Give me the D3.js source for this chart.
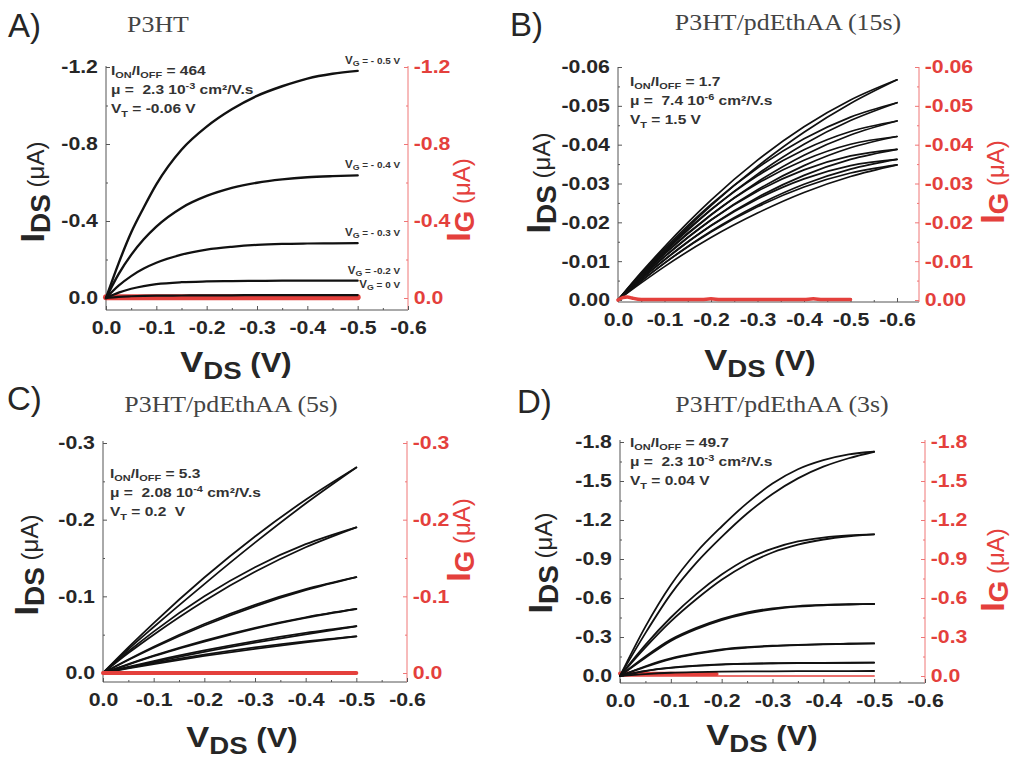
<!DOCTYPE html>
<html>
<head>
<meta charset="UTF-8">
<title>P3HT transistor output curves</title>
<script src="https://d3js.org/d3.v7.min.js"></script>
<style>
  body { margin: 0; background: #fff; }
  svg { display: block; }
  text { white-space: pre; }
</style>
</head>
<body>
<svg width="1015" height="769"></svg>
<script>
// values, V and uA (negative = p-type sweep)

// shared x ticks
var xTicks = [0, -0.1, -0.2, -0.3, -0.4, -0.5, -0.6];
var xMinor = [-0.05, -0.15, -0.25, -0.35, -0.45, -0.55];

// A) P3HT
var vdsA = [0, -0.025, -0.05, -0.075, -0.1, -0.15, -0.2, -0.25, -0.3, -0.35, -0.4, -0.45, -0.5];
var idsA_vg05 = [0, -0.18, -0.34, -0.47, -0.59, -0.77, -0.89, -0.98, -1.05, -1.10, -1.14, -1.165, -1.18];
var idsA_vg04 = [0, -0.124, -0.224, -0.305, -0.371, -0.468, -0.53, -0.572, -0.599, -0.616, -0.627, -0.633, -0.637];
var idsA_vg03 = [0, -0.064, -0.114, -0.153, -0.183, -0.225, -0.251, -0.266, -0.276, -0.281, -0.283, -0.284, -0.285];
var idsA_vg02 = [0, -0.028, -0.048, -0.062, -0.072, -0.082, -0.086, -0.088, -0.089, -0.09, -0.09, -0.09, -0.09];
var idsA_vg0 = [0, -0.006, -0.009, -0.011, -0.012, -0.013, -0.014, -0.014, -0.015, -0.015, -0.015, -0.015, -0.015];
var igA = [-0.004, -0.004, -0.004, -0.004, -0.004, -0.004, -0.004, -0.004, -0.004, -0.004, -0.004, -0.004, -0.004];
var vgLabelsA = ["- 0.5 V", "- 0.4 V", "- 0.3 V", "-0.2 V", "0 V"];
var yTicksA = [0, -0.4, -0.8, -1.2];
var yMinorA = [-0.2, -0.6, -1.0];

// B) P3HT/pdEthAA (15s) - forward and return sweeps
var vdsB = [0, -0.05, -0.1, -0.2, -0.3, -0.4, -0.5, -0.6];
var idsB1 = [0, -0.0071, -0.0137, -0.0257, -0.0360, -0.0446, -0.0515, -0.0567];
var idsB1r = [0, -0.0066, -0.0128, -0.0243, -0.0344, -0.0432, -0.0506, -0.0567];
var idsB2 = [0, -0.0069, -0.0132, -0.0246, -0.0340, -0.0415, -0.0471, -0.0508];
var idsB2r = [0, -0.0064, -0.0123, -0.0232, -0.0324, -0.0401, -0.0462, -0.0508];
var idsB3 = [0, -0.0066, -0.0127, -0.0233, -0.0320, -0.0387, -0.0434, -0.0461];
var idsB3r = [0, -0.0061, -0.0118, -0.0219, -0.0304, -0.0373, -0.0425, -0.0461];
var idsB4 = [0, -0.0062, -0.0120, -0.0220, -0.0300, -0.0360, -0.0401, -0.0421];
var idsB4r = [0, -0.0057, -0.0111, -0.0206, -0.0284, -0.0346, -0.0392, -0.0421];
var idsB5 = [0, -0.0059, -0.0112, -0.0206, -0.0280, -0.0335, -0.0371, -0.0388];
var idsB5r = [0, -0.0054, -0.0103, -0.0192, -0.0264, -0.0321, -0.0362, -0.0388];
var idsB6 = [0, -0.0054, -0.0104, -0.0191, -0.0260, -0.0312, -0.0346, -0.0362];
var idsB6r = [0, -0.0049, -0.0095, -0.0177, -0.0244, -0.0298, -0.0337, -0.0362];
var idsB7 = [0, -0.0049, -0.0095, -0.0175, -0.0240, -0.0291, -0.0327, -0.0348];
var idsB7r = [0, -0.0044, -0.0086, -0.0161, -0.0224, -0.0277, -0.0318, -0.0348];
var vgB = [0, -0.01, -0.02, -0.03, -0.05, -0.18, -0.2, -0.22, -0.4, -0.42, -0.44, -0.5];
var igB = [0, -0.0006, -0.0008, -0.0005, -0.0001, -0.0001, -0.0003, -0.0001, -0.0001, -0.0003, -0.0001, -0.0001];
var yTicksB = [0, -0.01, -0.02, -0.03, -0.04, -0.05, -0.06];
var yMinorB = [-0.005, -0.015, -0.025, -0.035, -0.045, -0.055];

// C) P3HT/pdEthAA (5s)
var vdsC = [0, -0.05, -0.1, -0.2, -0.3, -0.4, -0.5];
var idsC1 = [0, -0.0333, -0.0651, -0.1245, -0.1781, -0.2259, -0.268];
var idsC1r = [0, -0.031, -0.060, -0.116, -0.170, -0.221, -0.268];
var idsC2 = [0, -0.028, -0.054, -0.100, -0.138, -0.168, -0.190];
var idsC2r = [0, -0.026, -0.050, -0.094, -0.132, -0.164, -0.190];
var idsC3 = [0, -0.0177, -0.0343, -0.0639, -0.0889, -0.1093, -0.125];
var idsC3r = [0, -0.017, -0.033, -0.062, -0.087, -0.108, -0.125];
var idsC4 = [0, -0.0117, -0.0226, -0.0423, -0.0590, -0.0727, -0.0835];
var idsC4r = [0, -0.011, -0.022, -0.041, -0.058, -0.072, -0.0835];
var idsC5 = [0, -0.0080, -0.0156, -0.0294, -0.0416, -0.0522, -0.061];
var idsC5r = [0, -0.0072, -0.0142, -0.0275, -0.0395, -0.0505, -0.061];
var idsC6 = [0, -0.0066, -0.0128, -0.0239, -0.0334, -0.0413, -0.0478];
var idsC6r = [0, -0.0060, -0.0116, -0.0222, -0.0316, -0.0400, -0.0478];
var igC = [0, 0, 0, 0, 0, 0, 0];
var yTicksC = [0, -0.1, -0.2, -0.3];
var yMinorC = [-0.05, -0.15, -0.25];

// D) P3HT/pdEthAA (3s)
var vdsD = [0, -0.05, -0.1, -0.15, -0.2, -0.25, -0.3, -0.35, -0.4, -0.45, -0.5];
var idsD1 = [0, -0.38, -0.70, -0.95, -1.15, -1.33, -1.48, -1.59, -1.66, -1.705, -1.725];
var idsD1r = [0, -0.33, -0.63, -0.87, -1.07, -1.25, -1.40, -1.52, -1.61, -1.675, -1.725];
var idsD2 = [0, -0.24, -0.45, -0.63, -0.78, -0.90, -0.98, -1.035, -1.065, -1.082, -1.09];
var idsD2r = [0, -0.22, -0.42, -0.59, -0.74, -0.86, -0.95, -1.01, -1.05, -1.075, -1.09];
var idsD3 = [0, -0.15, -0.28, -0.37, -0.44, -0.49, -0.52, -0.538, -0.547, -0.552, -0.554];
var idsD3r = [0, -0.14, -0.27, -0.36, -0.43, -0.48, -0.513, -0.533, -0.544, -0.55, -0.554];
var idsD4 = [0, -0.075, -0.135, -0.175, -0.205, -0.222, -0.233, -0.240, -0.245, -0.248, -0.251];
var idsD4r = [0, -0.07, -0.13, -0.17, -0.2, -0.218, -0.23, -0.238, -0.244, -0.248, -0.251];
var idsD5 = [0, -0.04, -0.065, -0.08, -0.09, -0.095, -0.098, -0.1, -0.101, -0.102, -0.103];
var idsD5r = [0, -0.038, -0.062, -0.078, -0.088, -0.094, -0.097, -0.099, -0.1, -0.101, -0.103];
var idsD6 = [0, -0.015, -0.025, -0.03, -0.033, -0.035, -0.036, -0.037, -0.0375, -0.038, -0.0385];
var vgD1 = [0, -0.05, -0.1, -0.15, -0.19];
var igD1 = [-0.02, -0.018, -0.017, -0.016, -0.015];
var igD2 = [0, 0, 0, 0, 0, 0, 0, 0, 0, 0, 0];
var yTicksD = [0, -0.3, -0.6, -0.9, -1.2, -1.5, -1.8];
var yMinorD = [-0.15, -0.45, -0.75, -1.05, -1.35, -1.65];

// ---------------------------------------------------------------
var SANS = "'Liberation Sans', Arial, Helvetica, sans-serif";
var SERIF = "'Liberation Serif', 'Times New Roman', serif";
var INK = "#262626", RED = "#e4403c", REDAXIS = "#ef7676";
var SX = 1.15; // the original figure is a bit stretched sideways

var svg = d3.select("svg");

// text made of pieces: [string, size, baseline offset, weight]
function rich(g, x, y, parts, o) {
  o = o || {};
  var tr = "translate(" + x + "," + y + ")";
  if (o.rot) tr += " rotate(-90)";
  if (o.sx) tr += " scale(" + o.sx + ",1)";
  var t = g.append("text").attr("transform", tr)
    .attr("text-anchor", o.anchor || "start")
    .attr("fill", o.fill || INK)
    .attr("font-family", o.family || SANS);
  var cur = 0;
  parts.forEach(function (p) {
    var off = p[2] || 0;
    t.append("tspan").text(p[0])
      .attr("font-size", p[1])
      .attr("dy", off - cur)
      .attr("font-weight", p[3] || o.weight || "bold");
    cur = off;
  });
  return t;
}

function panel(p) {
  var g = svg.append("g");
  var x = d3.scaleLinear().domain([0, -0.6]).range([p.box.l, p.x06]);
  var y = d3.scaleLinear().domain([0, p.yTop]).range([p.y0, p.yTopPx]);
  var fmt = function (d) { return d.toFixed(p.dec); };

  // axis lines
  g.append("line").attr("x1", p.box.l).attr("x2", p.box.l).attr("y1", p.box.t).attr("y2", p.box.b).attr("stroke", "#555");
  g.append("line").attr("x1", p.box.l).attr("x2", p.box.r).attr("y1", p.box.b).attr("y2", p.box.b).attr("stroke", "#555");
  g.append("line").attr("x1", p.box.r).attr("x2", p.box.r).attr("y1", p.box.t).attr("y2", p.box.b).attr("stroke", REDAXIS);

  function styleTicks(sel, col, lineCol) {
    sel.select(".domain").remove();
    sel.selectAll("line").attr("stroke", lineCol);
    sel.selectAll("text").attr("font-family", SANS).attr("font-size", 18.5)
      .attr("font-weight", "bold").attr("fill", col)
      .attr("transform", "scale(" + SX + ",1)");
  }

  var xb = g.append("g").attr("transform", "translate(0," + p.box.b + ")");
  xb.call(d3.axisBottom(x).tickValues(xTicks).tickFormat(function (d) { return d.toFixed(1); })
    .tickSizeInner(-4).tickSizeOuter(0).tickPadding(11));
  styleTicks(xb, INK, "#555");
  var xm = g.append("g").attr("transform", "translate(0," + p.box.b + ")");
  xm.call(d3.axisBottom(x).tickValues(xMinor).tickFormat("").tickSizeInner(-2).tickSizeOuter(0));
  styleTicks(xm, INK, "#555");

  var yl = g.append("g").attr("transform", "translate(" + p.box.l + ",0)");
  yl.call(d3.axisLeft(y).tickValues(p.yTicks).tickFormat(fmt).tickSizeInner(-4).tickSizeOuter(0).tickPadding(7));
  styleTicks(yl, INK, "#555");
  var ylm = g.append("g").attr("transform", "translate(" + p.box.l + ",0)");
  ylm.call(d3.axisLeft(y).tickValues(p.yMinor).tickFormat("").tickSizeInner(-2).tickSizeOuter(0));
  styleTicks(ylm, INK, "#555");

  var yr = g.append("g").attr("transform", "translate(" + p.box.r + ",0)");
  yr.call(d3.axisRight(y).tickValues(p.yTicks).tickFormat(fmt).tickSizeInner(-4).tickSizeOuter(0).tickPadding(5));
  styleTicks(yr, RED, REDAXIS);
  var yrm = g.append("g").attr("transform", "translate(" + p.box.r + ",0)");
  yrm.call(d3.axisRight(y).tickValues(p.yMinor).tickFormat("").tickSizeInner(-2).tickSizeOuter(0));
  styleTicks(yrm, RED, REDAXIS);

  // curves
  p.series.forEach(function (s) {
    var pts = s.x.map(function (v, i) { return [v, s.y[i]]; });
    g.append("path")
      .attr("d", d3.line().x(function (d) { return x(d[0]); }).y(function (d) { return y(d[1]); })
        .curve(d3.curveMonotoneX)(pts))
      .attr("fill", "none").attr("stroke", s.c).attr("stroke-width", s.w)
      .attr("stroke-linecap", "round");
  });

  // axis titles
  rich(g, p.xLab[0], p.xLab[1], [["V", 30], ["DS", 24, 7], [" (V)", 27]], { anchor: "middle", sx: SX });
  rich(g, p.yLab[0], p.yLab[1], [["I", 34], ["DS", 28, 6], [" (\u03bcA)", 24, 0, "normal"]], { anchor: "middle", rot: true });
  rich(g, p.gLab[0], p.gLab[1], [["I", 34], ["G", 28, 4], [" (\u03bcA)", 24, 0, "normal"]], { anchor: "middle", rot: true, fill: RED });

  // panel letter and title
  rich(g, p.letter[0], p.letter[1], [[p.letter[2], 33, 0, "normal"]], {});
  rich(g, p.title[0], p.title[1], [[p.title[2], 22.5, 0, "normal"]], { anchor: "middle", family: SERIF, fill: "#444", sx: SX });

  // fit results
  var a = p.note, fs = 13.5, sm = 9.5;
  rich(g, a.x, a.y, [["I", fs], ["ON", sm, 3], ["/I", fs], ["OFF", sm, 3], [" = " + a.ratio, fs]], { sx: SX, fill: "#333" });
  rich(g, a.x, a.y + 19, [["\u03bc =  " + a.mu, fs], [a.exp, sm, -5], [" cm\u00b2/V.s", fs]], { sx: SX, fill: "#333" });
  rich(g, a.x, a.y + 38, [["V", fs], ["T", sm, 4], [" = " + a.vt, fs]], { sx: SX, fill: "#333" });

  return { x: x, y: y, g: g };
}

function blk(xs, ys, w) { return { x: xs, y: ys, c: "#111", w: w }; }
function red(xs, ys, w) { return { x: xs, y: ys, c: RED, w: w }; }

var pA = panel({
  box: { l: 106, r: 408, t: 66, b: 310 }, x06: 408, y0: 298, yTop: -1.2, yTopPx: 67, dec: 1,
  yTicks: yTicksA, yMinor: yMinorA,
  series: [red(vdsA, igA, 6), blk(vdsA, idsA_vg0, 2.2), blk(vdsA, idsA_vg02, 2.2), blk(vdsA, idsA_vg03, 2.2),
           blk(vdsA, idsA_vg04, 2.4), blk(vdsA, idsA_vg05, 2.4)],
  xLab: [236, 372], yLab: [44, 192], gLab: [470, 200],
  letter: [8, 37, "A)"], title: [158, 32, "P3HT"],
  note: { x: 111, y: 75, ratio: "464", mu: "2.3 10", exp: "-3", vt: "-0.06 V" }
});

// gate voltage tags at the end of each A curve
[idsA_vg05, idsA_vg04, idsA_vg03, idsA_vg02, idsA_vg0].forEach(function (s, i) {
  rich(pA.g, 400, pA.y(s[s.length - 1]) - 7, [["V", 10.5], ["G", 8, 2], [" = " + vgLabelsA[i], 9]],
    { anchor: "end", fill: "#333", sx: 1.1 });
});

panel({
  box: { l: 618, r: 919, t: 67, b: 302 }, x06: 897, y0: 300, yTop: -0.06, yTopPx: 67, dec: 2,
  yTicks: yTicksB, yMinor: yMinorB,
  series: [blk(vdsB, idsB1, 1.7), blk(vdsB, idsB1r, 1.7), blk(vdsB, idsB2, 1.7), blk(vdsB, idsB2r, 1.7),
           blk(vdsB, idsB3, 1.7), blk(vdsB, idsB3r, 1.7), blk(vdsB, idsB4, 1.7), blk(vdsB, idsB4r, 1.7),
           blk(vdsB, idsB5, 1.7), blk(vdsB, idsB5r, 1.7), blk(vdsB, idsB6, 1.7), blk(vdsB, idsB6r, 1.7),
           blk(vdsB, idsB7, 1.7), blk(vdsB, idsB7r, 1.7), red(vgB, igB, 3.5)],
  xLab: [760, 370], yLab: [550, 183], gLab: [1004, 182],
  letter: [510, 36, "B)"], title: [788, 30, "P3HT/pdEthAA (15s)"],
  note: { x: 630, y: 86, ratio: "1.7", mu: "7.4 10", exp: "-6", vt: "1.5 V" }
});

panel({
  box: { l: 103, r: 407, t: 441, b: 682 }, x06: 407, y0: 673, yTop: -0.3, yTopPx: 443, dec: 1,
  yTicks: yTicksC, yMinor: yMinorC,
  series: [blk(vdsC, idsC1, 1.8), blk(vdsC, idsC1r, 1.8), blk(vdsC, idsC2, 1.8), blk(vdsC, idsC2r, 1.8),
           blk(vdsC, idsC3, 1.8), blk(vdsC, idsC3r, 1.8), blk(vdsC, idsC4, 1.8), blk(vdsC, idsC4r, 1.8),
           blk(vdsC, idsC5, 1.8), blk(vdsC, idsC5r, 1.8), blk(vdsC, idsC6, 1.8), blk(vdsC, idsC6r, 1.8),
           red(vdsC, igC, 4)],
  xLab: [242, 747], yLab: [38, 565], gLab: [470, 540],
  letter: [7, 410, "C)"], title: [231, 412, "P3HT/pdEthAA (5s)"],
  note: { x: 110, y: 478, ratio: "5.3", mu: "2.08 10", exp: "-4", vt: "0.2  V" }
});

panel({
  box: { l: 620, r: 925, t: 440, b: 683 }, x06: 925, y0: 676, yTop: -1.8, yTopPx: 442, dec: 1,
  yTicks: yTicksD, yMinor: yMinorD,
  series: [red(vdsD, igD2, 1.5), red(vgD1, igD1, 4),
           blk(vdsD, idsD1, 1.8), blk(vdsD, idsD1r, 1.8), blk(vdsD, idsD2, 1.8), blk(vdsD, idsD2r, 1.8),
           blk(vdsD, idsD3, 1.8), blk(vdsD, idsD3r, 1.8), blk(vdsD, idsD4, 1.8), blk(vdsD, idsD4r, 1.8),
           blk(vdsD, idsD5, 1.8), blk(vdsD, idsD5r, 1.8), blk(vdsD, idsD6, 1.8)],
  xLab: [762, 745], yLab: [552, 563], gLab: [1004, 570],
  letter: [517, 413, "D)"], title: [782, 412, "P3HT/pdEthAA (3s)"],
  note: { x: 630, y: 447, ratio: "49.7", mu: "2.3 10", exp: "-3", vt: "0.04 V" }
});
</script>
</body>
</html>
